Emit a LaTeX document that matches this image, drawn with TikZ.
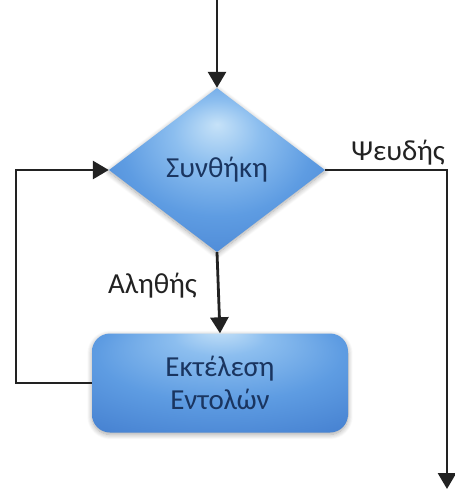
\documentclass[tikz,border=0pt]{standalone}
\usepackage{fontspec}
\setmainfont{Carlito}
\usetikzlibrary{shapes.geometric,arrows.meta,shadows.blur}

\definecolor{linec}{HTML}{222222}
\definecolor{txtc}{HTML}{1A3560}
\definecolor{glowc}{HTML}{C6E2F8}
\definecolor{softc}{HTML}{8CBEEF}
\definecolor{midc}{HTML}{5E9CE2}
\definecolor{edgec}{HTML}{4580D0}
\definecolor{deepc}{HTML}{3569BA}

% soft highlight near the upper middle of each shape
\pgfdeclareradialshading{diaglow}{\pgfpoint{0bp}{14bp}}{%
  color(0bp)=(glowc); color(10bp)=(softc); color(22bp)=(midc); color(38bp)=(edgec); color(50bp)=(deepc)}
\pgfdeclareradialshading{boxglow}{\pgfpoint{0bp}{28bp}}{%
  color(0bp)=(glowc); color(9bp)=(softc); color(24bp)=(midc); color(40bp)=(edgec); color(50bp)=(deepc)}

\tikzset{
  flow/.style={draw=linec, line width=2.8pt, -{Triangle[width=18pt,length=16pt]}},
  cond/.style={diamond, shade, shading=diaglow, minimum width=216pt, minimum height=164pt,
    inner sep=0pt, text=txtc, font=\fontsize{29}{33}\selectfont,
    blur shadow={shadow xshift=0pt, shadow yshift=-2pt, shadow blur steps=10,
      shadow blur radius=5pt, shadow opacity=35}},
  actbox/.style={rectangle, rounded corners=18pt, shade, shading=boxglow,
    minimum width=256pt, minimum height=99pt, inner sep=0pt, text=txtc, align=center,
    font=\fontsize{29}{33}\selectfont,
    blur shadow={shadow xshift=0pt, shadow yshift=-2pt, shadow blur steps=10,
      shadow blur radius=5pt, shadow opacity=35}},
  lbl/.style={text=linec, font=\fontsize{29}{33}\selectfont, inner sep=0pt}
}

\begin{document}
\begin{tikzpicture}[x=1pt, y=-1pt]
  \useasboundingbox (0,0) rectangle (455,490);

  \node[cond] (c) at (217,170) {Συνθήκη};
  \node[actbox] (b) at (220,383) {Εκτέλεση\\Εντολών};

  \coordinate (start) at (217,0);
  \coordinate (loopb) at (16,383);
  \coordinate (loopt) at (16,170);
  \coordinate (rtop) at (447,170);
  \coordinate (rend) at (447,489);

  \draw[flow] (start) -- (c.north);
  \draw[flow] (c.south) -- (b.north);
  \draw[flow] (b.west) -- (loopb) -- (loopt) -- (c.west);
  \draw[flow] (c.east) -- (rtop) -- (rend);

  \node[lbl, anchor=base east] (f) at (445,160) {Ψευδής};
  \node[lbl, anchor=base west] (t) at (108,293) {Αληθής};
\end{tikzpicture}
\end{document}
